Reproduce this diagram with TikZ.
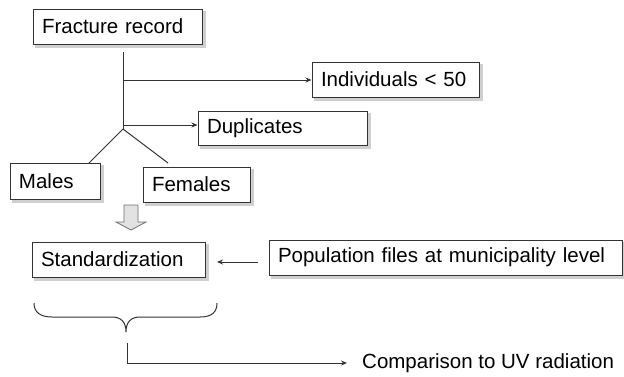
\documentclass[tikz,border=0pt]{standalone}
\usepackage{fontspec}
\setmainfont{Liberation Sans}
\usetikzlibrary{arrows.meta}
\definecolor{linegray}{HTML}{333333}
\definecolor{shadowgray}{HTML}{CFCFCF}
\definecolor{arrowfill}{HTML}{E2E2E2}
\begin{document}
\begin{tikzpicture}[x=1pt,y=-1pt,
  font=\fontsize{20.5}{23}\selectfont,
  box/.style={draw=linegray, line width=1pt, fill=white, rectangle,
    inner xsep=9pt, inner ysep=0pt, align=left, text=black,
    preaction={fill=shadowgray, draw=shadowgray, line width=2pt, transform canvas={shift={(2.5pt,-3pt)}}}},
  conn/.style={draw=linegray, line width=1pt},
  tip/.style={conn, -{Stealth[length=6pt,width=5pt]}}]
\useasboundingbox (0,0) rectangle (624,376);
\fill[white] (0,0) rectangle (624,376);

\node[box, minimum width=169pt, minimum height=35pt, text width=151pt] (frac) at (117.5,26.5) {Fracture record};
\node[box, minimum width=167pt, minimum height=35pt, text width=149pt] (ind) at (395.5,79.5) {Individuals < 50};
\node[box, minimum width=169pt, minimum height=34pt, text width=151pt] (dup) at (282.5,128) {Duplicates};
\node[box, minimum width=90pt, minimum height=36pt, text width=72pt] (males) at (55,181) {Males};
\node[box, minimum width=107pt, minimum height=35pt, text width=89pt] (fem) at (196.5,184.5) {Females};
\node[box, minimum width=173pt, minimum height=35pt, text width=155pt] (std) at (118.5,259.5) {Standardization};
\node[box, minimum width=353pt, minimum height=35pt, text width=335pt] (pop) at (445.5,257.5) {Population files at municipality level};
\node[anchor=west, inner sep=0pt, text=black] (uv) at (362,363) {Comparison to UV radiation};

% trunk
\coordinate (top) at (123,52);
\coordinate (j1) at (123,80);
\coordinate (j2) at (123,125);
\coordinate (jb) at (123,129);
\coordinate (ml) at (89,163);
\coordinate (fl) at (168,163);
\draw[conn] (top) -- (jb);
\draw[tip] (j1) -- (ind.west |- j1);
\draw[tip] (j2) -- (dup.west |- j2);
\draw[conn] (jb) -- (ml);
\draw[conn] (jb) -- (fl);

% hollow arrow
\draw[draw=linegray!70, fill=arrowfill, line width=0.8pt]
  (124,205) -- (138,205) -- (138,222) -- (146,222) -- (131,230) -- (116,222) -- (124,222) -- cycle;

% population -> standardization
\coordinate (pa) at (258,262);
\coordinate (pb) at (217,262);
\draw[tip] (pa) -- (pb);

% brace
\draw[conn] (34,303) .. controls (34,312) and (40,317) .. (52,317) -- (112,317)
  .. controls (121,317) and (126,322) .. (126,332)
  .. controls (126,322) and (131,317) .. (140,317) -- (200,317)
  .. controls (212,317) and (217,312) .. (217,303);

% bottom connector
\coordinate (b1) at (127,343);
\coordinate (b2) at (127,363);
\coordinate (b3) at (347,363);
\draw[conn] (b1) -- (b2);
\draw[tip] (b2) -- (b3);
\end{tikzpicture}
\end{document}
